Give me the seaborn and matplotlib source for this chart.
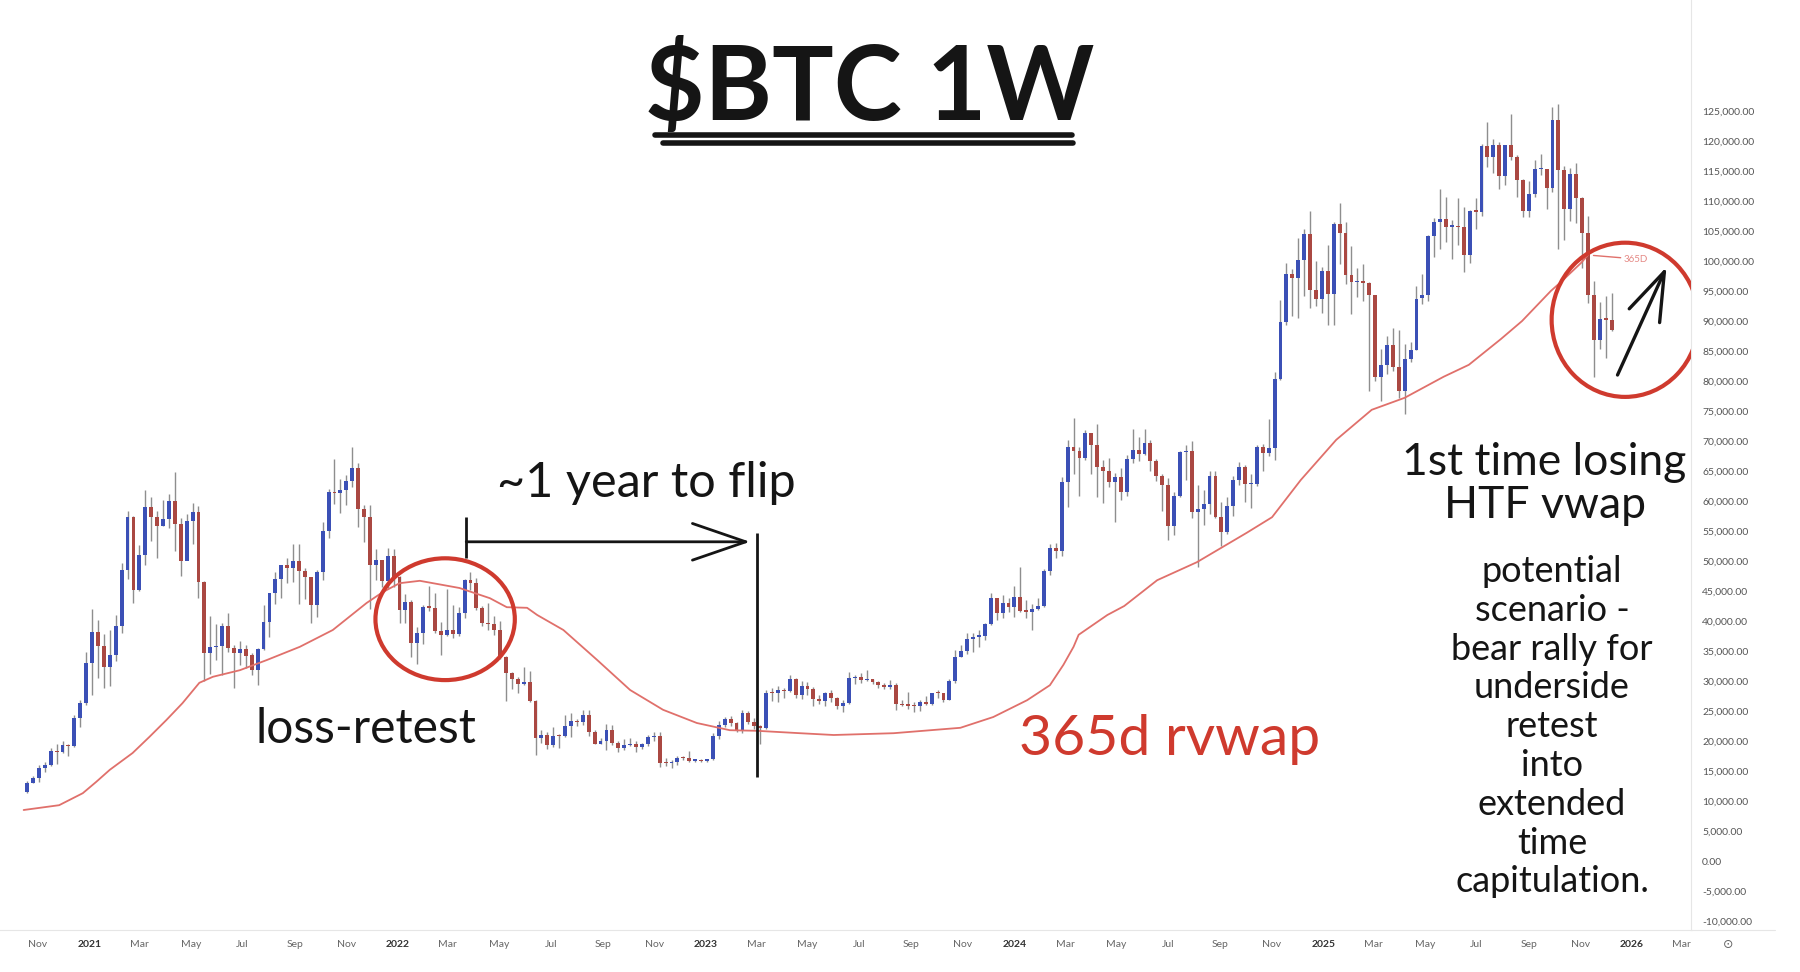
import matplotlib
matplotlib.use("Agg")
import matplotlib.pyplot as plt
import matplotlib.dates as mdates
from matplotlib.patches import Ellipse
from matplotlib.lines import Line2D
import seaborn as sns
import pandas as pd
import numpy as np

# weekly BTC candles (values in thousands of USD), first week starts 2020-10-19
first_week = "2020-10-19"
first_open = 11.50

closes = [
    # 2020
    13.03, 13.80, 15.48, 15.96, 18.41, 18.18, 19.36, 19.15, 23.84, 26.27, 33.00,
    # 2021
    38.15, 35.79, 32.26, 34.26, 39.25, 48.58, 57.41, 45.20, 51.00, 59.03, 57.35, 55.82, 57.06,
    59.97, 56.15, 50.05, 56.62, 58.23, 46.43, 34.70, 35.68, 35.80, 39.10, 35.52, 34.70, 35.29,
    34.25, 31.78, 35.40, 39.86, 44.61, 47.02, 49.32, 48.85, 49.92, 48.30, 47.26, 42.70, 48.20,
    54.95, 61.53, 61.32, 61.84, 63.30, 65.47, 58.62, 57.27, 49.40, 50.10, 46.70, 50.81, 47.35,
    # 2022
    41.86, 43.10, 36.28, 37.92, 42.41, 42.20, 38.40, 37.70, 38.42, 37.78, 41.28, 46.82, 46.41,
    42.16, 39.72, 39.45, 38.47, 34.06, 31.30, 30.29, 29.45, 29.91, 26.60, 20.55, 21.03, 19.30,
    20.85, 20.80, 22.58, 23.30, 23.17, 24.30, 21.53, 19.56, 19.99, 21.83, 19.70, 18.80, 19.31,
    19.42, 19.07, 19.57, 20.63, 20.90, 16.33, 16.28, 16.46, 17.11, 17.10, 16.74, 16.84, 16.61,
    # 2023
    16.94, 20.88, 22.71, 23.74, 22.93, 21.86, 24.63, 23.17, 22.43, 22.16, 28.04, 27.99, 28.46,
    28.33, 30.31, 27.59, 29.23, 28.70, 26.92, 26.75, 28.08, 27.23, 25.84, 26.34, 30.47, 30.59,
    30.17, 30.29, 29.79, 29.28, 29.05, 29.41, 26.10, 26.00, 25.87, 25.83, 26.53, 26.25, 27.98,
    27.93, 26.86, 29.98, 34.08, 35.03, 37.05, 37.38, 37.46, 39.46, 43.78, 41.37, 43.00, 42.28,
    # 2024
    43.94, 41.73, 41.58, 42.03, 42.58, 48.30, 52.14, 51.73, 63.11, 68.95, 68.39, 67.21, 71.33,
    69.36, 65.66, 64.94, 63.12, 64.01, 61.48, 66.94, 68.52, 67.76, 69.65, 66.64, 64.25, 62.67,
    55.85, 60.80, 68.16, 68.25, 58.16, 58.71, 59.49, 64.18, 57.30, 54.84, 59.13, 63.58, 65.60,
    62.82, 62.87, 69.03, 67.93, 68.78, 80.37, 89.85, 97.90, 97.18, 100.15, 104.47, 95.17, 93.72,
    98.36,
    # 2025
    94.51, 106.15, 104.71, 97.68, 96.47, 96.62, 96.28, 94.27, 80.70, 82.60, 86.08, 82.39, 78.37,
    83.75, 85.18, 93.75, 94.32, 104.13, 106.46, 107.08, 105.72, 105.77, 105.60, 101.00, 108.40,
    108.23, 119.12, 117.30, 119.40, 114.20, 119.30, 117.40, 113.50, 108.30, 111.20, 115.30,
    115.30, 112.10, 123.50, 115.20, 108.60, 114.50, 110.50, 104.70, 94.40, 86.80, 90.40, 90.20,
    88.50,
]

highs = [
    13.35, 14.09, 15.96, 16.48, 18.82, 19.48, 19.92, 19.42, 24.30, 26.77, 34.80,
    41.95, 40.10, 37.85, 38.53, 40.96, 49.71, 58.35, 57.50, 52.64, 61.78, 60.60, 58.40, 60.20,
    61.20, 64.85, 57.19, 57.90, 59.60, 59.20, 46.60, 40.90, 39.48, 39.70, 41.30, 36.00, 36.65,
    35.95, 34.70, 35.45, 42.60, 44.70, 48.14, 49.40, 50.48, 52.90, 52.85, 48.80, 47.40, 48.50,
    56.50, 62.00, 67.00, 63.70, 64.27, 69.00, 66.30, 59.30, 59.40, 51.95, 50.15, 52.10, 52.00,
    47.55, 44.44, 43.50, 38.92, 42.66, 45.85, 44.75, 39.85, 45.40, 42.60, 42.35, 47.00, 48.20,
    47.20, 42.45, 42.98, 40.80, 40.00, 34.24, 31.50, 30.60, 32.38, 31.70, 26.90, 21.87, 21.55,
    22.40, 21.20, 24.27, 24.65, 23.65, 25.20, 25.15, 21.82, 20.57, 22.79, 22.67, 19.96, 20.35,
    20.47, 19.95, 19.70, 21.08, 21.48, 21.45, 17.19, 16.77, 17.42, 17.42, 18.39, 16.96, 16.97,
    17.04, 21.26, 23.37, 23.96, 24.25, 23.17, 25.25, 25.02, 23.88, 22.60, 28.44, 28.80, 29.18,
    28.79, 31.00, 30.48, 30.02, 29.82, 29.06, 27.66, 28.20, 28.45, 27.35, 26.79, 31.43, 31.02,
    31.38, 31.80, 30.40, 29.99, 29.73, 30.24, 29.66, 26.82, 28.15, 26.43, 26.88, 27.48, 28.07,
    28.58, 27.99, 30.36, 35.20, 35.98, 37.98, 37.93, 38.42, 39.70, 44.73, 43.80, 44.26, 43.80,
    45.88, 48.97, 43.58, 42.84, 43.86, 48.59, 52.82, 52.98, 64.00, 70.17, 73.78, 68.92, 71.76,
    71.34, 72.80, 66.88, 67.23, 64.73, 65.50, 67.70, 71.95, 70.60, 71.95, 70.15, 66.99, 64.45,
    63.75, 61.42, 68.35, 69.40, 70.01, 62.73, 61.84, 65.05, 64.98, 59.82, 60.67, 64.13, 66.50,
    66.00, 64.49, 69.40, 69.52, 73.62, 81.50, 93.48, 99.59, 98.68, 103.90, 105.25, 108.35, 99.96,
    99.04,
    102.72, 106.44, 109.59, 106.45, 102.50, 98.83, 99.48, 96.50, 94.40, 85.30, 87.45, 88.77, 88.50,
    86.10, 86.45, 95.76, 97.90, 104.35, 107.10, 111.98, 110.70, 106.80, 110.50, 108.95, 108.53,
    110.55, 119.50, 123.20, 120.25, 119.80, 119.40, 124.46, 117.63, 113.60, 113.40, 116.80,
    117.90, 115.40, 125.70, 126.20, 115.90, 115.50, 116.40, 110.70, 107.50, 96.60, 93.10, 94.10,
    94.60,
]

lows = [
    11.40, 12.92, 13.20, 14.83, 15.79, 16.19, 18.00, 17.58, 19.00, 22.35, 26.00,
    27.73, 30.42, 28.85, 29.24, 33.41, 37.99, 47.00, 43.00, 45.00, 49.30, 53.27, 50.43, 55.78,
    55.47, 51.60, 47.50, 52.40, 52.90, 43.80, 30.00, 31.10, 33.50, 31.00, 34.80, 28.80, 32.70,
    32.10, 31.00, 29.28, 35.20, 37.30, 42.80, 43.90, 46.40, 46.50, 42.80, 43.70, 39.60, 40.75,
    46.90, 53.90, 59.50, 58.00, 59.40, 62.30, 55.60, 53.25, 42.00, 46.80, 45.60, 45.56, 45.70,
    39.65, 39.65, 34.00, 32.90, 36.25, 41.70, 38.00, 34.32, 37.50, 37.15, 37.55, 40.47, 45.15,
    41.88, 39.20, 38.54, 37.70, 33.73, 26.70, 28.65, 28.02, 29.30, 26.56, 17.62, 19.65, 18.72,
    19.08, 18.91, 20.75, 20.71, 22.43, 22.65, 20.77, 19.52, 19.52, 18.55, 19.32, 18.13, 18.47,
    19.12, 18.19, 18.65, 19.24, 20.04, 15.59, 15.80, 15.48, 16.05, 16.87, 16.53, 16.56, 16.47,
    16.50, 16.90, 20.41, 22.29, 22.54, 21.43, 21.37, 22.80, 21.97, 19.55, 21.96, 26.60, 26.52,
    27.22, 28.17, 27.13, 26.94, 27.67, 25.81, 26.10, 25.87, 26.51, 25.39, 24.80, 26.24, 29.52,
    29.71, 29.95, 29.55, 28.89, 28.59, 28.70, 25.17, 25.80, 25.33, 24.90, 24.93, 26.02, 26.02,
    27.18, 26.56, 26.83, 29.66, 33.92, 34.53, 34.76, 35.63, 36.87, 39.40, 40.20, 40.56, 41.50,
    40.75, 41.50, 40.50, 38.55, 41.88, 42.26, 47.72, 50.52, 50.91, 59.00, 64.53, 60.76, 66.90,
    64.49, 60.66, 59.60, 62.39, 56.55, 60.19, 60.75, 66.30, 66.67, 67.60, 65.08, 63.38, 58.40,
    53.49, 54.26, 60.63, 63.45, 57.12, 49.00, 56.08, 57.85, 57.20, 52.55, 54.58, 57.49, 62.70,
    59.83, 58.90, 62.44, 65.06, 67.48, 66.84, 80.24, 89.38, 90.79, 90.50, 94.15, 92.23, 92.57,
    91.30,
    89.26, 89.26, 99.50, 96.19, 91.23, 94.08, 93.39, 78.26, 80.00, 76.60, 81.20, 81.60, 77.15,
    74.50, 83.10, 85.14, 92.90, 93.38, 100.72, 102.00, 103.10, 100.40, 102.66, 98.20, 99.60,
    105.28, 107.50, 115.74, 114.72, 112.00, 112.70, 116.80, 110.70, 107.25, 107.30, 110.60,
    114.40, 108.65, 111.50, 102.00, 103.50, 106.70, 106.30, 98.90, 93.00, 80.60, 85.30, 83.80,
    88.30,
]

# 365d rolling vwap
vwap_dates = [
    "2020-10-15", "2020-11-26", "2020-12-24", "2021-01-09", "2021-01-25", "2021-02-21",
    "2021-03-13", "2021-04-02", "2021-04-21", "2021-05-11", "2021-05-27", "2021-06-28",
    "2021-07-30", "2021-09-07", "2021-10-16", "2021-11-25", "2021-12-14", "2022-01-03",
    "2022-01-27", "2022-03-15", "2022-04-20", "2022-05-10", "2022-06-03", "2022-06-15",
    "2022-07-16", "2022-08-25", "2022-10-03", "2022-11-11", "2022-12-21", "2023-01-29",
    "2023-03-02", "2023-04-22", "2023-06-01", "2023-08-11", "2023-10-29", "2023-12-07",
    "2024-01-16", "2024-02-12", "2024-02-28", "2024-03-11", "2024-03-17", "2024-04-20",
    "2024-05-10", "2024-06-18", "2024-08-04", "2024-10-02", "2024-11-01", "2024-12-05",
    "2025-01-16", "2025-02-27", "2025-04-07", "2025-05-23", "2025-06-22", "2025-07-30",
    "2025-08-24", "2025-09-27", "2025-10-09", "2025-11-02", "2025-11-10",
]
vwap_values = [
    8.5, 9.3, 11.3, 13.2, 15.2, 18.0,
    20.7, 23.5, 26.3, 29.7, 30.7, 31.8,
    33.5, 35.7, 38.5, 43.0, 44.8, 46.3,
    46.7, 45.5, 43.8, 42.3, 42.2, 41.0,
    38.5, 33.5, 28.5, 25.2, 23.0, 21.8,
    21.7, 21.3, 21.0, 21.3, 22.2, 24.0,
    26.8, 29.3, 32.7, 35.7, 37.7, 41.0,
    42.5, 46.8, 49.8, 54.7, 57.3, 63.5,
    70.2, 75.2, 77.2, 80.7, 82.7, 87.0,
    90.0, 95.0, 96.5, 99.7, 101.0,
]

tick_dates = [
    "2020-11-01", "2021-01-01", "2021-03-01", "2021-05-01", "2021-07-01", "2021-09-01",
    "2021-11-01", "2022-01-01", "2022-03-01", "2022-05-01", "2022-07-01", "2022-09-01",
    "2022-11-01", "2023-01-01", "2023-03-01", "2023-05-01", "2023-07-01", "2023-09-01",
    "2023-11-01", "2024-01-01", "2024-03-01", "2024-05-01", "2024-07-01", "2024-09-01",
    "2024-11-01", "2025-01-01", "2025-03-01", "2025-05-01", "2025-07-01", "2025-09-01",
    "2025-11-01", "2026-01-01", "2026-03-01",
]
tick_labels = [
    "Nov", "2021", "Mar", "May", "Jul", "Sep", "Nov", "2022", "Mar", "May", "Jul", "Sep",
    "Nov", "2023", "Mar", "May", "Jul", "Sep", "Nov", "2024", "Mar", "May", "Jul", "Sep",
    "Nov", "2025", "Mar", "May", "Jul", "Sep", "Nov", "2026", "Mar",
]
price_ticks = list(range(-10, 130, 5))

sns.set_theme(style="white")
plt.rcParams["font.family"] = ["Lato", "DejaVu Sans"]

BLUE = "#3b50b6"
RED = "#aa4842"
WICK = "#8e8e8e"
ANN_RED = "#cf3a2e"
INK = "#151515"

weeks = pd.date_range(first_week, periods=len(closes), freq="W-MON")
opens = [first_open] + closes[:-1]
df = pd.DataFrame({"date": weeks, "open": opens, "high": highs, "low": lows, "close": closes})
df["bottom"] = df[["open", "close"]].min(axis=1)
df["body"] = (df["close"] - df["open"]).abs().clip(lower=0.22)
df["color"] = np.where(df["close"] >= df["open"], BLUE, RED)

W, H = 1800, 972
fig = plt.figure(figsize=(18, 9.72), dpi=100)
ax = fig.add_axes([0, 1 - 930 / H, 1691 / W, 930 / H])


def px(x, y):
    return x / W, 1 - y / H


def d(s):
    return mdates.date2num(pd.Timestamp(s))


# candles
ax.vlines(df["date"], df["low"], df["high"], colors=WICK, linewidth=1.0, zorder=2)
ax.bar(df["date"], df["body"], bottom=df["bottom"], width=4.6, color=df["color"],
       linewidth=0, zorder=3)

# 365d rvwap
vw = pd.DataFrame({"date": pd.to_datetime(vwap_dates), "vwap": vwap_values})
sns.lineplot(data=vw, x="date", y="vwap", ax=ax, color="#e0706b", linewidth=1.3, zorder=4)
ax.annotate("365D", xy=(vw["date"].iloc[-1], vw["vwap"].iloc[-1]), xytext=(36, -4),
            textcoords="offset pixels", fontsize=7, color="#e58a86", va="center",
            arrowprops=dict(arrowstyle="-", color="#e0706b", lw=1.0, shrinkA=0, shrinkB=4))

ax.set_xlim(d("2020-09-17"), d("2026-03-12"))
ax.set_ylim(-11.5, 143.5)
ax.set_xlabel("")
ax.set_ylabel("")

ax.yaxis.tick_right()
ax.set_yticks(price_ticks)
ax.set_yticklabels([f"{v * 1000:,.2f}" for v in price_ticks])
ax.tick_params(axis="y", length=0, pad=8, labelsize=7.5, labelcolor="#555555")
ax.set_xticks(pd.to_datetime(tick_dates))
ax.set_xticklabels(tick_labels)
ax.tick_params(axis="x", length=0, pad=7, labelsize=7.5, labelcolor="#666666")
for lab in ax.get_xticklabels():
    if lab.get_text().isdigit():
        lab.set_fontweight("bold")
        lab.set_color("#333333")

for side in ["top", "left"]:
    ax.spines[side].set_visible(False)
for side in ["right", "bottom"]:
    ax.spines[side].set_color("#e6e6e6")
    ax.spines[side].set_linewidth(0.8)
fig.add_artist(Line2D([1691 / W, 1775 / W], [1 - 930 / H] * 2, transform=fig.transFigure,
                      color="#e6e6e6", lw=0.8))
fig.text(*px(1728, 944), "\u2299", fontsize=9, color="#666666", ha="center", va="center")

# circles
ax.add_patch(Ellipse((d("2022-02-26"), 40.3), 165, 20.3, fill=False,
                     edgecolor=ANN_RED, lw=3, zorder=6))
ax.add_patch(Ellipse((d("2025-12-24"), 90.2), 174, 25.7, fill=False,
                     edgecolor=ANN_RED, lw=3, zorder=6))

# arrows and marker lines
ax.annotate("", xy=(d("2026-02-11"), 99.0), xytext=(d("2025-12-15"), 81.0),
            arrowprops=dict(arrowstyle="->,head_length=2.9,head_width=1.0", color=INK,
                            lw=2.4, shrinkA=0, shrinkB=0), zorder=7)
ax.annotate("", xy=(d("2023-02-22"), 53.2), xytext=(d("2022-03-23"), 53.2),
            arrowprops=dict(arrowstyle="->,head_length=3.2,head_width=1.1", color=INK,
                            lw=2.0, shrinkA=0, shrinkB=0), zorder=7)
ax.vlines(d("2022-03-23"), 50.5, 57.3, colors=INK, lw=2.0, zorder=7)
ax.vlines(d("2023-03-02"), 14.0, 54.7, colors=INK, lw=2.0, zorder=7)

# title
fig.text(*px(870, 120), "$BTC 1W", fontsize=74, fontweight="bold", color=INK,
         ha="center", va="baseline")
fig.add_artist(Line2D([655 / W, 1072 / W], [1 - 135 / H] * 2, transform=fig.transFigure,
                      color=INK, lw=4, solid_capstyle="round"))
fig.add_artist(Line2D([663 / W, 1073 / W], [1 - 143 / H] * 2, transform=fig.transFigure,
                      color=INK, lw=4, solid_capstyle="round"))

# notes
fig.text(*px(646, 497), "~1 year to flip", fontsize=35, color=INK, ha="center", va="baseline")
fig.text(*px(366, 743), "loss-retest", fontsize=34.5, color=INK, ha="center", va="baseline")
fig.text(*px(1170, 755), "365d rvwap", fontsize=41, color=ANN_RED, ha="center", va="baseline")
fig.text(*px(1544, 475), "1st time losing", fontsize=32, color=INK, ha="center", va="baseline")
fig.text(*px(1545, 518), "HTF vwap", fontsize=32, color=INK, ha="center", va="baseline")

scenario = ["potential", "scenario -", "bear rally for", "underside", "retest", "into",
            "extended", "time", "capitulation."]
for i, line in enumerate(scenario):
    fig.text(*px(1552, 582 + i * 38.8), line, fontsize=26, color=INK,
             ha="center", va="baseline")

fig.savefig("out.png", dpi=100, facecolor="white")
